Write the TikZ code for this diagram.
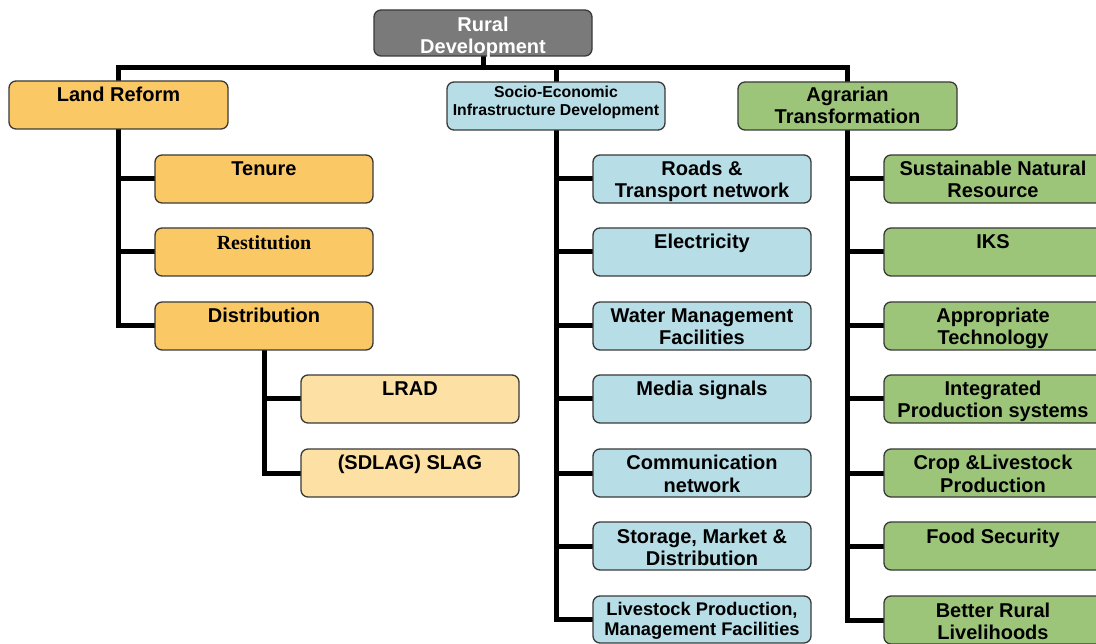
\documentclass[tikz,border=0pt]{standalone}
\usepackage{fontspec}
\setmainfont{Liberation Sans}
\newfontfamily\serifbf{Liberation Serif}
\usetikzlibrary{backgrounds}
\definecolor{cgray}{HTML}{7A7A7A}
\definecolor{corange}{HTML}{FAC865}
\definecolor{clight}{HTML}{FDE0A4}
\definecolor{cblue}{HTML}{B7DDE6}
\definecolor{cgreen}{HTML}{9DC57A}
\definecolor{cborder}{HTML}{3A3A3A}
\tikzset{
  box/.style={draw=cborder, line width=1.3pt, rounded corners=7pt, minimum width=218pt, minimum height=48pt, inner sep=0pt, outer sep=0pt, anchor=north west},
  wide/.style={box, minimum width=224pt},
  lbl/.style={anchor=north, inner sep=0pt, outer sep=0pt, align=center, font=\bfseries\fontsize{20}{22}\selectfont},
  slbl/.style={anchor=north, inner sep=0pt, outer sep=0pt, align=center, font=\bfseries\fontsize{15.8}{18}\selectfont},
  conn/.style={draw=black, line width=5pt},
}
\newcommand{\st}{\rule{0pt}{16pt}}
\newcommand{\sst}{\rule{0pt}{13pt}}
\begin{document}
\begin{tikzpicture}[x=1pt, y=-1pt]
\useasboundingbox (0,0) rectangle (1096,644);
\clip (0,0) rectangle (1096,644);
\coordinate (bar) at (0,68);

% boxes
\node[box, fill=cgray, minimum height=46pt] (rd) at (374,10) {};
\node[box, fill=corange, minimum width=219pt] (lr) at (9,81) {};
\node[box, fill=cblue] (se) at (447,82) {};
\node[box, fill=cgreen, minimum width=219pt] (ag) at (738,82) {};

\node[box, fill=corange] (ten) at (155,155) {};
\node[box, fill=corange] (res) at (155,228) {};
\node[box, fill=corange] (dis) at (155,302) {};
\node[box, fill=clight] (lrad) at (301,375) {};
\node[box, fill=clight] (slag) at (301,449) {};

\node[box, fill=cblue] (m1) at (593,155) {};
\node[box, fill=cblue] (m2) at (593,228) {};
\node[box, fill=cblue] (m3) at (593,302) {};
\node[box, fill=cblue] (m4) at (593,375) {};
\node[box, fill=cblue] (m5) at (593,449) {};
\node[box, fill=cblue] (m6) at (593,522) {};
\node[box, fill=cblue, minimum height=47pt] (m7) at (593,596) {};

\node[wide, fill=cgreen] (r1) at (884,155) {};
\node[wide, fill=cgreen] (r2) at (884,228) {};
\node[wide, fill=cgreen] (r3) at (884,302) {};
\node[wide, fill=cgreen] (r4) at (884,375) {};
\node[wide, fill=cgreen] (r5) at (884,449) {};
\node[wide, fill=cgreen] (r6) at (884,522) {};
\node[wide, fill=cgreen] (r7) at (884,596) {};

% connectors
\begin{scope}[on background layer]
\fill[white] (0,0) rectangle (1096,644);
\path[conn] (rd.south) -- (rd.south |- bar);
\path[conn] (lr.north) -- (lr.north |- bar) -- (ag.north |- bar) -- (ag.north);
\path[conn] (se.north) -- (se.north |- bar);
\path[conn] (lr.south) |- (ten.west);
\path[conn] (lr.south) |- (res.west);
\path[conn] (lr.south) |- (dis.west);
\path[conn] (dis.south) |- (lrad.west);
\path[conn] (dis.south) |- (slag.west);
\foreach \n in {m1,m2,m3,m4,m5,m6,m7} { \path[conn] (se.south) |- (\n.west); }
\foreach \n in {r1,r2,r3,r4,r5,r6,r7} { \path[conn] (ag.south) |- (\n.west); }
\end{scope}

% labels
\node[lbl, text=white] (rdt) at ([yshift=-6pt]rd.north) {\st Rural\\Development};
\node[lbl] (lrt) at ([yshift=-5pt]lr.north) {\st Land Reform};
\node[slbl] (set) at ([yshift=-3pt]se.north) {\sst Socio-Economic\\Infrastructure Development};
\node[lbl] (agt) at ([yshift=-4pt]ag.north) {\st Agrarian\\Transformation};

\node[lbl] (tent) at ([yshift=-5pt]ten.north) {\st Tenure};
\node[lbl, font=\serifbf\bfseries\fontsize{20}{22}\selectfont] (rest) at ([yshift=-6pt]res.north) {\st Restitution};
\node[lbl] (dist) at ([yshift=-5pt]dis.north) {\st Distribution};
\node[lbl] (lradt) at ([yshift=-5pt]lrad.north) {\st LRAD};
\node[lbl] (slagt) at ([yshift=-5pt]slag.north) {\st (SDLAG) SLAG};

\node[lbl] (m1t) at ([yshift=-5pt]m1.north) {\st Roads \&\\Transport network};
\node[lbl] (m2t) at ([yshift=-5pt]m2.north) {\st Electricity};
\node[lbl] (m3t) at ([yshift=-5pt]m3.north) {\st Water Management\\Facilities};
\node[lbl] (m4t) at ([yshift=-5pt]m4.north) {\st Media signals};
\node[lbl] (m5t) at ([yshift=-5pt]m5.north) {\st Communication\\network};
\node[lbl] (m6t) at ([yshift=-5pt]m6.north) {\st Storage, Market \&\\Distribution};
\node[lbl, font=\bfseries\fontsize{18.3}{20}\selectfont] (m7t) at ([yshift=-4pt]m7.north) {\rule{0pt}{15pt}Livestock Production,\\Management Facilities};

\node[lbl] (r1t) at ([xshift=-3pt,yshift=-5pt]r1.north) {\st Sustainable Natural\\Resource};
\node[lbl] (r2t) at ([xshift=-3pt,yshift=-5pt]r2.north) {\st IKS};
\node[lbl] (r3t) at ([xshift=-3pt,yshift=-5pt]r3.north) {\st Appropriate\\Technology};
\node[lbl] (r4t) at ([xshift=-3pt,yshift=-5pt]r4.north) {\st Integrated\\Production systems};
\node[lbl] (r5t) at ([xshift=-3pt,yshift=-5pt]r5.north) {\st Crop \&Livestock\\Production};
\node[lbl] (r6t) at ([xshift=-3pt,yshift=-5pt]r6.north) {\st Food Security};
\node[lbl] (r7t) at ([xshift=-3pt,yshift=-5pt]r7.north) {\st Better Rural\\Livelihoods};
\end{tikzpicture}
\end{document}
